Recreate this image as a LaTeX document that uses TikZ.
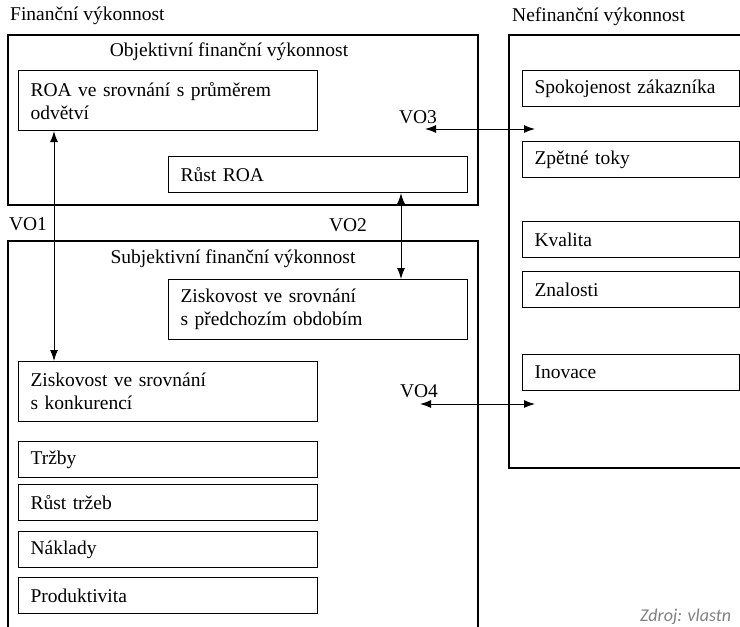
\documentclass[tikz,border=0pt]{standalone}
\usepackage{fontspec}
\setmainfont{Liberation Serif}
\newfontfamily\zdrojpismo{Carlito}
\usetikzlibrary{arrows.meta,positioning,calc}
\definecolor{sedy}{HTML}{808080}
\begin{document}
\begin{tikzpicture}[x=1pt,y=-1pt,
  txt/.style={font=\fontsize{19.5}{23}\selectfont,inner sep=0pt},
  polozka/.style={draw,line width=1.1pt,anchor=north west,txt,align=left,inner xsep=12pt,text width=#1,minimum height=36pt},
  ram/.style={line width=1.1pt},
  spoj/.style={{Latex[length=11pt,width=8pt]}-{Latex[length=11pt,width=8pt]},line width=1pt}]
  \useasboundingbox (0,0) rectangle (740,627);
  \clip (0,0) rectangle (740,627);
  % ramy
  \draw[ram] (8,35) rectangle (478,205);
  \draw[ram] (8,640) -- (8,241) -- (478,241) -- (478,640);
  \draw[ram] (760,35) -- (509,35) -- (509,468) -- (760,468);
  \node[txt,anchor=west] (fin) at (10,16) {Finanční výkonnost};
  \node[txt,anchor=west] (nefin) at (512,17) {Nefinanční výkonnost};
  \node[txt] (obj) at (229,52) {Objektivní finanční výkonnost};
  \node[txt] (subj) at (233,259) {Subjektivní finanční výkonnost};
  % financni ukazatele
  \node[polozka=275pt,minimum height=60pt] (roa) at (18,70) {ROA ve srovnání s průměrem\\odvětví};
  \node[polozka=275pt] (rust) at (168,156) {Růst ROA};
  \node[polozka=275pt,minimum height=60pt] (predch) at (168,279) {Ziskovost ve srovnání\\s předchozím obdobím};
  \node[polozka=275pt,minimum height=60pt] (konk) at (18,361) {Ziskovost ve srovnání\\s konkurencí};
  \foreach \y/\n/\t in {441/trz/Tržby, 484/rtrz/Růst tržeb, 531/nakl/Náklady, 577/prod/Produktivita}
    \node[polozka=275pt] (\n) at (18,\y) {\t};
  % nefinancni ukazatele
  \foreach \y/\n/\t in {70/spok/Spokojenost zákazníka, 141/zpet/Zpětné toky, 221/kval/Kvalita,
                        271/znal/Znalosti, 354/inov/Inovace}
    \node[polozka=193pt] (\n) at (522,\y) {\t};
  % vztahy
  \node[txt] (vo1) at (28,224) {VO1};
  \node[txt] (vo2) at (348,225) {VO2};
  \node[txt] (vo3) at (418,117) {VO3};
  \node[txt] (vo4) at (419,391) {VO4};
  \coordinate (vo3l) at (425,129);  \coordinate (vo3r) at (535,129);
  \coordinate (vo4l) at (420,404);  \coordinate (vo4r) at (535,404);
  \draw[spoj] ($(roa.south west)+(36,0)$) -- ($(konk.north west)+(36,0)$);
  \draw[spoj] ($(rust.south west)+(233,0)$) -- ($(predch.north west)+(233,0)$);
  \draw[spoj] (vo3l) -- (vo3r);
  \draw[spoj] (vo4l) -- (vo4r);
  \node[font=\zdrojpismo\itshape\fontsize{18}{20}\selectfont,text=sedy,anchor=base west,inner sep=0pt] (zdroj) at (640,621) {Zdroj: vlastn};
\end{tikzpicture}
\end{document}
